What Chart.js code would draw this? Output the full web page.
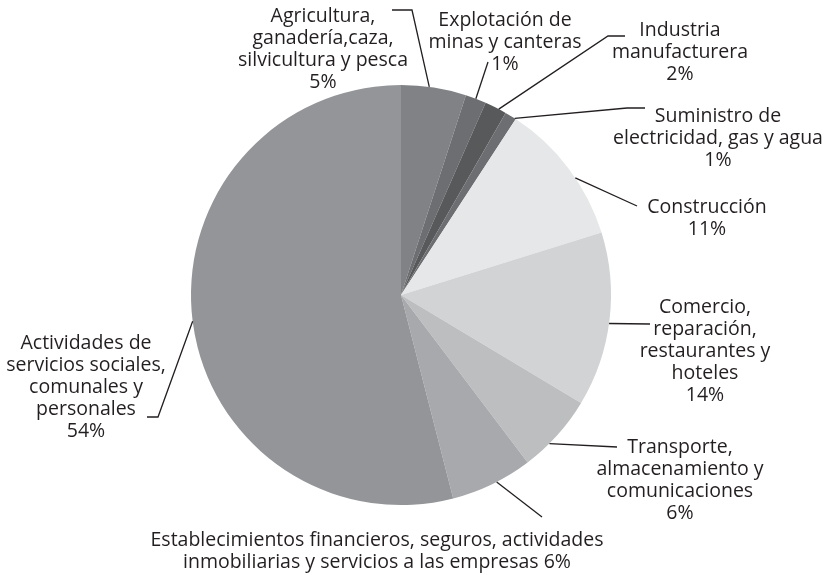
<!DOCTYPE html>
<html><head><meta charset="utf-8">
<script src="https://cdn.jsdelivr.net/npm/chart.js@4"></script>
<style>html,body{margin:0;padding:0;background:#fff;}canvas{display:block;}</style>
</head><body>
<canvas id="c" width="827" height="575"></canvas>
<script>
const categories = [
  ["Agricultura,","ganadería,caza,","silvicultura y pesca"],
  ["Explotación de","minas y canteras"],
  ["Industria","manufacturera"],
  ["Suministro de","electricidad, gas y agua"],
  ["Construcción"],
  ["Comercio,","reparación,","restaurantes y","hoteles"],
  ["Transporte,","almacenamiento y","comunicaciones"],
  ["Establecimientos financieros, seguros, actividades","inmobiliarias y servicios a las empresas"],
  ["Actividades de","servicios sociales,","comunales y","personales"]
];
const values = [5.0, 1.6, 1.7, 0.9, 11.0, 13.4, 6.1, 6.3, 54.0];
const pctLabels = ["5%","1%","2%","1%","11%","14%","6%","6%","54%"];
const colors = ["#808285","#6d6e71","#58595b","#6d6e71","#e6e7e8","#d1d3d4","#bcbec0","#a7a9ac","#939598"];

// label layout (annotation positions only)
const layout = [
  {tx:323, ty:16, frac:0.43, pts:[[412,10],[392,10]], inline:false},
  {tx:505, ty:20, frac:0.5,  pts:[[488,62]], inline:false},
  {tx:680, ty:30, frac:0.65, pts:[[608,36],[625,36]], inline:false},
  {tx:718, ty:116,frac:0.9,  pts:[[627,108],[645,108]], inline:false},
  {tx:707, ty:207,frac:0.58, pts:[[637,206]], inline:false},
  {tx:705, ty:307,frac:0.52, pts:[[650,324]], inline:false},
  {tx:680, ty:447,frac:0.64, pts:[[617,447]], inline:false},
  {tx:377, ty:540,frac:0.44, pts:[[542,517]], inline:true},
  {tx:86,  ty:343,frac:0.5,  pts:[[158,417],[147,417]], inline:false}
];
const LH = 22;

const labelPlugin = {
  id:'leaderLabels',
  afterDraw(chart){
    const ctx = chart.ctx;
    const meta = chart.getDatasetMeta(0);
    ctx.save();
    ctx.strokeStyle = '#231f20';
    ctx.lineWidth = 1.3;
    ctx.fillStyle = '#231f20';
    ctx.font = '19.5px "Open Sans"';
    ctx.textAlign = 'center';
    ctx.textBaseline = 'middle';
    meta.data.forEach((arc, i) => {
      const L = layout[i];
      const a = arc.startAngle + (arc.endAngle - arc.startAngle) * L.frac;
      const r = arc.outerRadius;
      const ax = arc.x + r * Math.cos(a), ay = arc.y + r * Math.sin(a);
      ctx.beginPath();
      ctx.moveTo(ax, ay);
      L.pts.forEach(p => ctx.lineTo(p[0], p[1]));
      ctx.stroke();
      let lines = categories[i].slice();
      if (L.inline) lines[lines.length-1] += ' ' + pctLabels[i];
      else lines.push(pctLabels[i]);
      lines.forEach((t, k) => ctx.fillText(t, L.tx, L.ty + k * LH));
    });
    ctx.restore();
  }
};

new Chart(document.getElementById('c'), {
  type:'pie',
  data:{
    labels: categories.map(c => c.join(' ')),
    datasets:[{data: values, backgroundColor: colors, borderWidth: 0}]
  },
  options:{
    responsive:false,
    animation:false,
    layout:{padding:{top:85,bottom:70,left:191,right:216}},
    plugins:{legend:{display:false}, tooltip:{enabled:false}}
  },
  plugins:[labelPlugin]
});
</script>
</body></html>
